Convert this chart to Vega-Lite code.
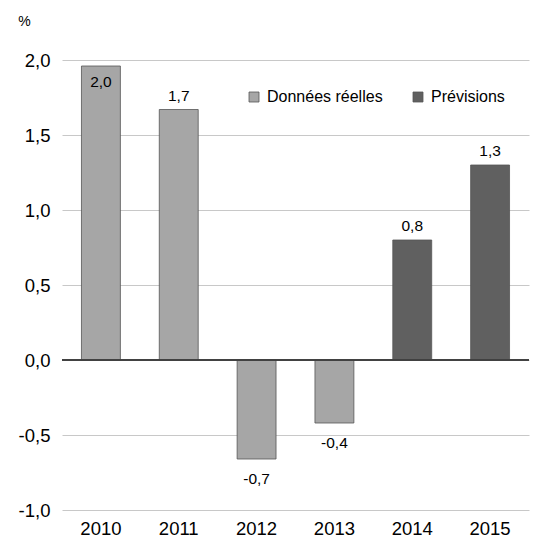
{
  "$schema": "https://vega.github.io/schema/vega-lite/v6.json",
  "autosize": {"type": "none"},
  "padding": {"left": 62, "top": 60, "right": 6, "bottom": 44},
  "width": 467,
  "height": 450,
  "background": "white",
  "data": {
    "values": [
      {"year": "2010", "value": 1.96, "kind": "Données réelles"},
      {"year": "2011", "value": 1.67, "kind": "Données réelles"},
      {"year": "2012", "value": -0.66, "kind": "Données réelles"},
      {"year": "2013", "value": -0.42, "kind": "Données réelles"},
      {"year": "2014", "value": 0.8, "kind": "Prévisions"},
      {"year": "2015", "value": 1.3, "kind": "Prévisions"}
    ]
  },
  "encoding": {
    "x": {
      "field": "year",
      "type": "nominal",
      "scale": {"paddingInner": 0.5, "paddingOuter": 0.25},
      "axis": {
        "title": null,
        "labelAngle": 0,
        "ticks": false,
        "domain": false,
        "labelPadding": 9,
        "labelFontSize": 18.5,
        "labelColor": "#000"
      }
    },
    "y": {
      "field": "value",
      "type": "quantitative",
      "scale": {"domain": [-1, 2], "nice": false},
      "axis": {
        "values": [-1, -0.5, 0, 0.5, 1, 1.5, 2],
        "format": ".1f",
        "title": "%",
        "titleAngle": 0,
        "titleX": -38,
        "titleY": -39,
        "titleAlign": "center",
        "titleBaseline": "middle",
        "titleFontSize": 14,
        "titleFontWeight": "normal",
        "titleColor": "#000",
        "ticks": false,
        "domain": false,
        "labelPadding": 12,
        "labelFontSize": 18.5,
        "labelColor": "#000",
        "gridColor": "#c8c8c8",
        "gridWidth": 1
      }
    }
  },
  "layer": [
    {
      "mark": {"type": "bar", "stroke": "#555", "strokeWidth": 0.8},
      "encoding": {
        "color": {
          "field": "kind",
          "type": "nominal",
          "scale": {"domain": ["Données réelles", "Prévisions"], "range": ["#a6a6a6", "#606060"]},
          "legend": {
            "title": null,
            "orient": "none",
            "legendX": 184,
            "legendY": 29,
            "direction": "horizontal",
            "columns": 2,
            "columnPadding": 27,
            "symbolType": "square",
            "symbolSize": 100,
            "symbolStrokeColor": "#555",
            "symbolStrokeWidth": 0.8,
            "labelFontSize": 16,
            "labelColor": "#000",
            "labelOffset": 5
          }
        }
      }
    },
    {
      "mark": {"type": "rule", "color": "#404040", "strokeWidth": 1.2},
      "encoding": {"y": {"datum": 0}, "x": {}}
    },
    {
      "transform": [{"filter": "datum.year == '2010'"}],
      "mark": {"type": "text", "fontSize": 15.5, "dy": 16, "color": "#000"},
      "encoding": {"text": {"field": "value", "type": "quantitative", "format": ".1f"}}
    },
    {
      "transform": [{"filter": "datum.value > 0 && datum.year != '2010'"}],
      "mark": {"type": "text", "fontSize": 15.5, "dy": -14, "color": "#000"},
      "encoding": {"text": {"field": "value", "type": "quantitative", "format": ".1f"}}
    },
    {
      "transform": [{"filter": "datum.value < 0"}],
      "mark": {"type": "text", "fontSize": 15.5, "dy": 20, "color": "#000"},
      "encoding": {"text": {"field": "value", "type": "quantitative", "format": ".1f"}}
    }
  ],
  "config": {
    "font": "Liberation Sans",
    "view": {"stroke": null},
    "locale": {
      "number": {
        "decimal": ",",
        "thousands": " ",
        "grouping": [3],
        "currency": ["", " €"],
        "minus": "-"
      }
    }
  }
}
